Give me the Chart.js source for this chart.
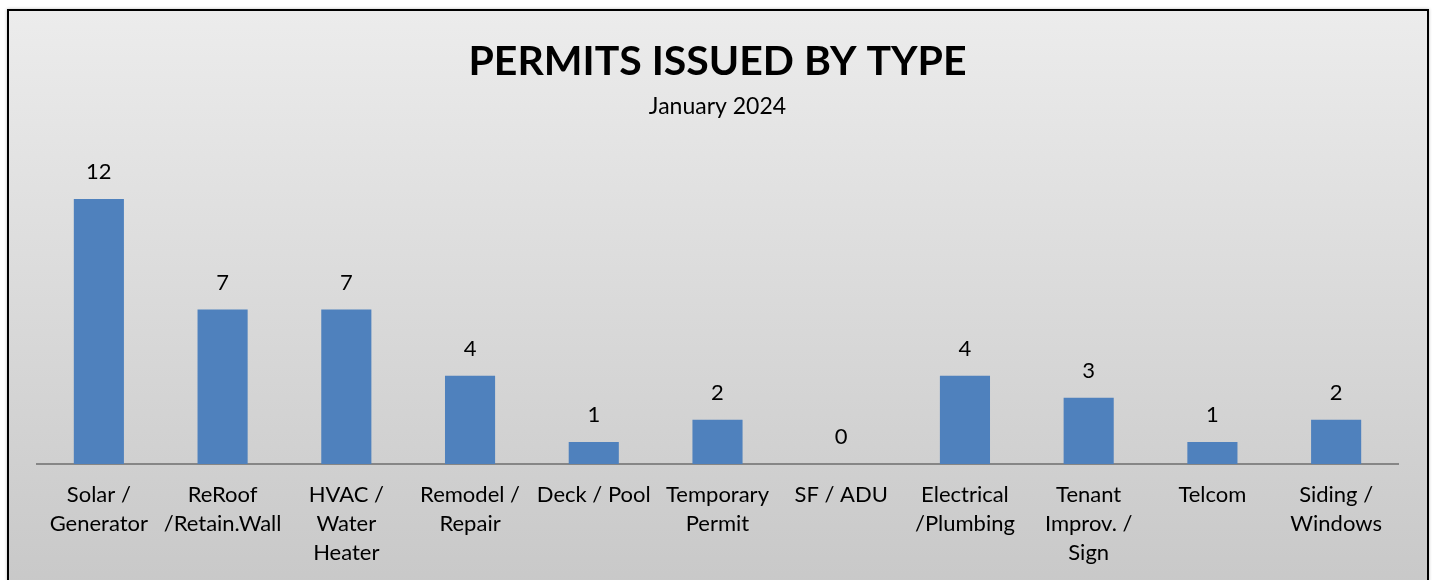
<!DOCTYPE html>
<html><head><meta charset="utf-8">
<script src="https://cdn.jsdelivr.net/npm/chart.js@4"></script>
<style>
html,body{margin:0;padding:0;background:#fff;width:1434px;height:580px;overflow:hidden}
#frame{position:absolute;left:7px;top:9px;width:1418px;height:580px;border:2px solid #000;border-bottom:none;
background:linear-gradient(#ececec,#c8c8c8);box-shadow:0 0 3px rgba(0,0,0,0.25)}
#wrap{position:absolute;left:0;top:0;width:1434px;height:580px}
</style></head><body>
<div id="frame"></div>
<div id="wrap"><canvas id="c" width="1434" height="580"></canvas></div>
<script>
const categories = [["Solar /","Generator"],["ReRoof","/Retain.Wall"],["HVAC /","Water","Heater"],["Remodel /","Repair"],["Deck / Pool"],["Temporary","Permit"],["SF / ADU"],["Electrical","/Plumbing"],["Tenant","Improv. /","Sign"],["Telcom"],["Siding /","Windows"]];
const permits = [12,7,7,4,1,2,0,4,3,1,2];
const titleText = "PERMITS ISSUED BY TYPE";
const subtitleText = "January 2024";
const FONT = "Lato, 'Open Sans', sans-serif";

const valueLabels = {
  id:'valueLabels',
  afterDatasetsDraw(chart){
    const ctx = chart.ctx;
    const meta = chart.getDatasetMeta(0);
    ctx.save();
    ctx.font = "22px " + FONT;
    ctx.fillStyle = "#000";
    ctx.textAlign = "center";
    ctx.textBaseline = "middle";
    meta.data.forEach((bar,i)=>{
      ctx.fillText(String(permits[i]), bar.x, bar.y - 27);
    });
    ctx.restore();
  }
};

new Chart(document.getElementById('c'),{
  type:'bar',
  data:{labels:categories,datasets:[{data:permits,backgroundColor:'#4f81bd',borderWidth:0,categoryPercentage:1,barPercentage:0.405}]},
  options:{
    responsive:false,animation:false,
    layout:{padding:{left:37,right:36,top:0,bottom:0}},
    plugins:{
      legend:{display:false},tooltip:{enabled:false},
      title:{display:true,text:titleText,color:'#000',font:{family:FONT,size:41,weight:'bold',lineHeight:1.2},padding:{top:37.4,bottom:0}},
      subtitle:{display:true,text:subtitleText,color:'#000',font:{family:FONT,size:23,lineHeight:1.2},padding:{top:6.6,bottom:11.95}}
    },
    scales:{
      x:{
        afterFit:(s)=>{s.height=116;},
        grid:{display:false,drawTicks:false},
        border:{display:true,color:'#868686',width:2},
        ticks:{color:'#000',font:{family:FONT,size:22,lineHeight:1.32},padding:16.5,autoSkip:false,maxRotation:0,minRotation:0}
      },
      y:{display:false,min:0,max:15}
    }
  },
  plugins:[valueLabels]
});
</script>
</body></html>
